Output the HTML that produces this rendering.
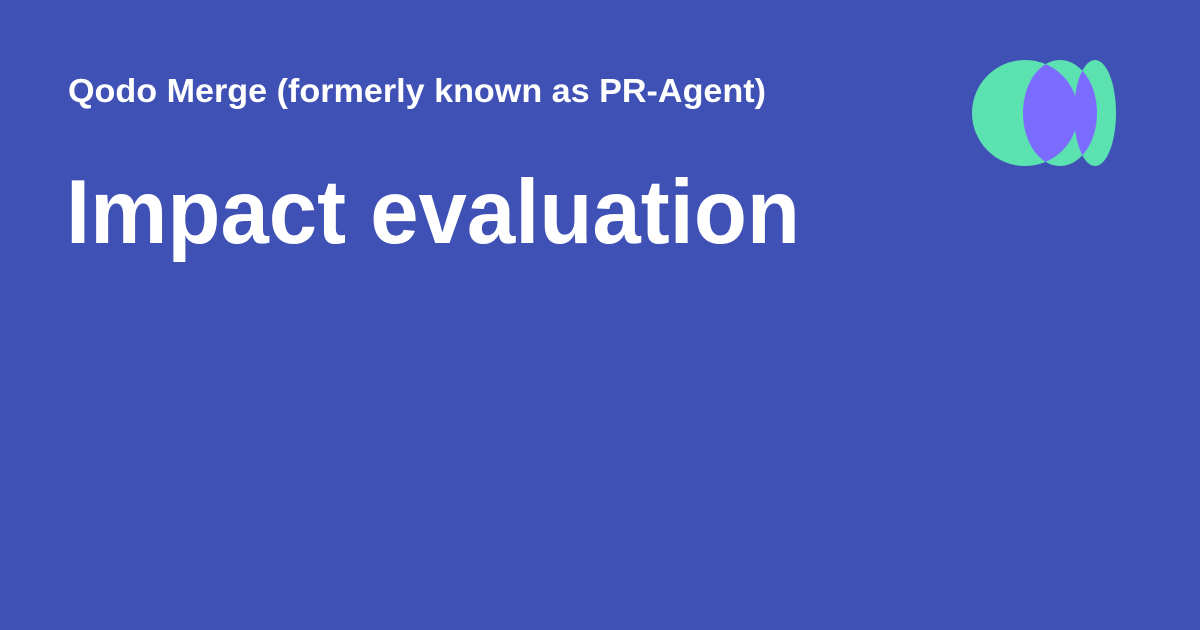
<!DOCTYPE html>
<html><head><meta charset="utf-8"><style>
html,body{margin:0;padding:0;width:1200px;height:630px;overflow:hidden;background:#3f51b5}
svg{display:block}
</style></head><body>
<svg width="1200" height="630" viewBox="0 0 1200 630">
<rect width="1200" height="630" fill="#3f51b5"/>
<text x="68" y="102" font-family="Liberation Sans, sans-serif" font-weight="bold" font-size="33" fill="#fff" textLength="698" lengthAdjust="spacingAndGlyphs">Qodo Merge (formerly known as PR-Agent)</text>
<text x="66" y="243" font-family="Liberation Sans, sans-serif" font-weight="bold" font-size="91" fill="#fff" textLength="734" lengthAdjust="spacingAndGlyphs">Impact evaluation</text>
<defs>
<clipPath id="c1"><circle cx="1025" cy="113" r="53"/></clipPath>
<clipPath id="c3"><ellipse cx="1095" cy="113" rx="21" ry="53"/></clipPath>
</defs>
<g>
<circle cx="1025" cy="113" r="53" fill="#5ce1b0"/>
<ellipse cx="1060" cy="113" rx="37" ry="53" fill="#5ce1b0"/>
<ellipse cx="1095" cy="113" rx="21" ry="53" fill="#5ce1b0"/>
<ellipse cx="1060" cy="113" rx="37" ry="53" fill="#7b6cff" clip-path="url(#c1)"/>
<ellipse cx="1060" cy="113" rx="37" ry="53" fill="#7b6cff" clip-path="url(#c3)"/>
</g>
</svg>
</body></html>
